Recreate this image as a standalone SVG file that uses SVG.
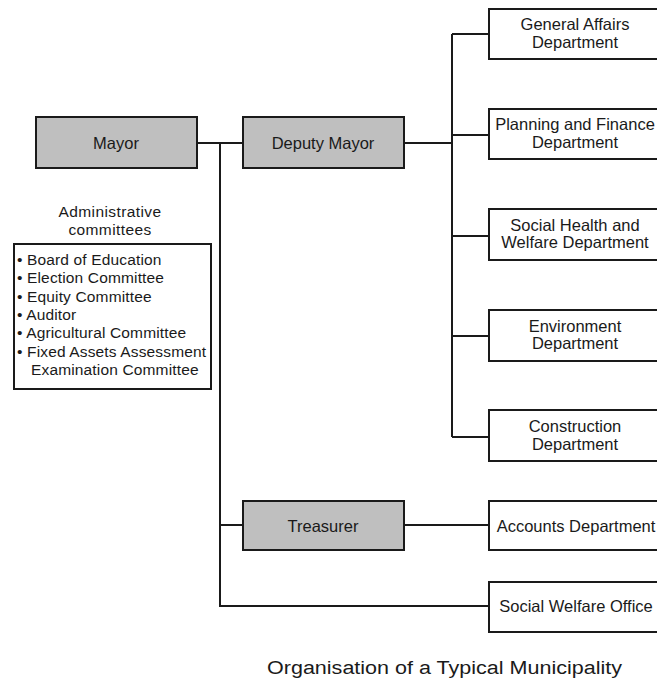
<svg xmlns="http://www.w3.org/2000/svg" width="657" height="683" viewBox="0 0 657 683">
<style>
.box{fill:#ffffff;stroke:#1a1a1a;stroke-width:2}
.grey{fill:#bfbfbf;stroke:#1a1a1a;stroke-width:2}
.t{font-family:"Liberation Sans",Arial,sans-serif;font-size:16.5px;fill:#1a1a1a;text-anchor:middle}
.l{font-family:"Liberation Sans",Arial,sans-serif;font-size:15.5px;fill:#1a1a1a;letter-spacing:0.15px}
.c{fill:none;stroke:#1a1a1a;stroke-width:2}
</style>
<rect x="0" y="0" width="657" height="683" fill="#ffffff"/>
<g id="connectors">
<path class="c" d="M197 143 H243"/>
<path class="c" d="M220 143 V606 H489"/>
<path class="c" d="M404 143 H452"/>
<path class="c" d="M452 34 V437"/>
<path class="c" d="M452 34 H489 M452 135 H489 M452 236 H489 M452 336 H489 M452 437 H489"/>
<path class="c" d="M220 525 H243"/>
<path class="c" d="M404 525 H489"/>
</g>
<g id="mayor">
<rect class="grey" x="36" y="117" width="161" height="51"/>
<text class="t" x="116" y="148.5">Mayor</text>
</g>
<g id="deputy-mayor">
<rect class="grey" x="243" y="117" width="161" height="51"/>
<text class="t" x="323" y="148.5">Deputy Mayor</text>
</g>
<g id="treasurer">
<rect class="grey" x="243" y="501" width="161" height="49"/>
<text class="t" x="323" y="531.5">Treasurer</text>
</g>
<g id="committees">
<text class="t" x="110" y="216.5" style="font-size:15.5px;letter-spacing:0.4px">Administrative</text>
<text class="t" x="110" y="235" style="font-size:15.5px;letter-spacing:0.4px">committees</text>
<rect class="box" x="14" y="244" width="197" height="145"/>
<text class="l" x="17" y="265">• Board of Education</text>
<text class="l" x="17" y="283.3">• Election Committee</text>
<text class="l" x="17" y="301.6">• Equity Committee</text>
<text class="l" x="17" y="319.9">• Auditor</text>
<text class="l" x="17" y="338.2">• Agricultural Committee</text>
<text class="l" x="17" y="356.5">• Fixed Assets Assessment</text>
<text class="l" x="31" y="374.8">Examination Committee</text>
</g>
<g id="general-affairs">
<rect class="box" x="489" y="9" width="180" height="50"/>
<text class="t" x="575" y="30">General Affairs</text>
<text class="t" x="575" y="47.5">Department</text>
</g>
<g id="planning-finance">
<rect class="box" x="489" y="109" width="180" height="50"/>
<text class="t" x="575" y="130">Planning and Finance</text>
<text class="t" x="575" y="147.5">Department</text>
</g>
<g id="social-health">
<rect class="box" x="489" y="209" width="180" height="51"/>
<text class="t" x="575" y="230.5">Social Health and</text>
<text class="t" x="575" y="248">Welfare Department</text>
</g>
<g id="environment">
<rect class="box" x="489" y="310" width="180" height="51"/>
<text class="t" x="575" y="331.5">Environment</text>
<text class="t" x="575" y="349">Department</text>
</g>
<g id="construction">
<rect class="box" x="489" y="410" width="180" height="51"/>
<text class="t" x="575" y="432">Construction</text>
<text class="t" x="575" y="449.5">Department</text>
</g>
<g id="accounts">
<rect class="box" x="489" y="501" width="180" height="49"/>
<text class="t" x="576" y="531.5">Accounts Department</text>
</g>
<g id="social-welfare-office">
<rect class="box" x="489" y="582" width="180" height="50"/>
<text class="t" x="576" y="612">Social Welfare Office</text>
</g>
<g id="caption">
<text x="267" y="674" textLength="355" lengthAdjust="spacingAndGlyphs" style="font-family:'Liberation Sans',Arial,sans-serif;font-size:18px;fill:#1a1a1a">Organisation of a Typical Municipality</text>
</g>
</svg>
